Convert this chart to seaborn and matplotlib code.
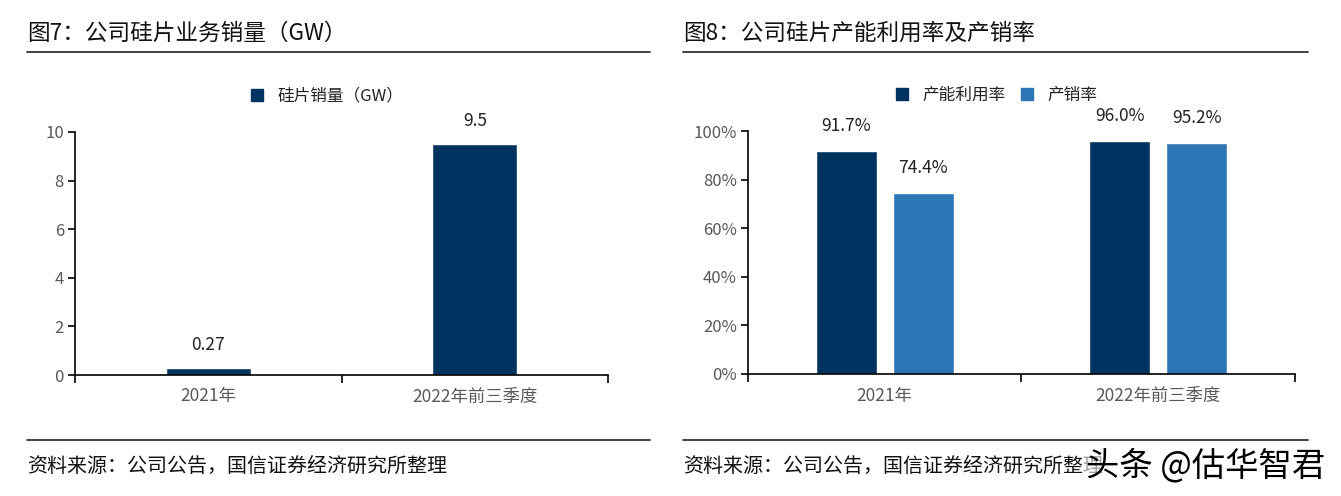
import pandas as pd
import matplotlib.pyplot as plt
import seaborn as sns
from matplotlib.ticker import PercentFormatter
from matplotlib.lines import Line2D

# data
categories = ['2021年', '2022年前三季度']
wafer_sales = [0.27, 9.5]
wafer_labels = ['0.27', '9.5']
util_rate = [0.917, 0.960]
sell_rate = [0.744, 0.952]
rate_series = ['产能利用率', '产销率']

dark = '#00335f'
light = '#2e75b6'
grey = '#595959'

sns.set_theme(style='white')
plt.rcParams['font.family'] = ['Noto Sans CJK SC', 'DejaVu Sans']
plt.rcParams['axes.unicode_minus'] = False

W, H = 1341, 496
fig = plt.figure(figsize=(W / 100, H / 100), dpi=100)


def fx(px):
    return px / W


def fy(py):
    return 1 - py / H


def style_axes(ax):
    sns.despine(ax=ax)
    for s in ['left', 'bottom']:
        ax.spines[s].set_color('black')
        ax.spines[s].set_linewidth(1.2)
    ax.set_xlim(-0.5, 1.5)
    ax.set_xticks([-0.5, 0.5, 1.5], minor=False)
    ax.set_xticklabels([])
    ax.tick_params(axis='x', which='major', direction='out', length=6, width=1.2,
                   color='black', bottom=True)
    ax.set_xticks([0, 1], minor=True)
    ax.set_xticklabels(categories, minor=True)
    ax.tick_params(axis='x', which='minor', length=0, labelsize=12.5,
                   labelcolor=grey, pad=9)
    ax.tick_params(axis='y', direction='out', length=5, width=1.2, color='black',
                   left=True, labelsize=12, labelcolor=grey, pad=3)
    ax.set_xlabel('')
    ax.set_ylabel('')


# ---- left chart
ax1 = fig.add_axes([fx(75), fy(375), fx(608 - 75), fy(132) - fy(375)])
sns.barplot(x=categories, y=wafer_sales, color=dark, width=0.32, saturation=1, ax=ax1)
ax1.set_ylim(0, 10)
ax1.set_yticks([0, 2, 4, 6, 8, 10])
style_axes(ax1)
for i, (v, lab) in enumerate(zip(wafer_sales, wafer_labels)):
    ax1.annotate(lab, (i, v), xytext=(0, 17), textcoords='offset points',
                 ha='center', va='center', fontsize=12.5, color='#222222')
h1 = [Line2D([], [], marker='s', linestyle='', markersize=9, color=dark)]
ax1.legend(h1, ['硅片销量（GW）'], loc='center', bbox_to_anchor=(0.463, 1.147),
           frameon=False, fontsize=12, handletextpad=0.2, labelcolor='#222222')

# ---- right chart
df = pd.DataFrame({
    'cat': categories * 2,
    'val': util_rate + sell_rate,
    'series': [rate_series[0]] * 2 + [rate_series[1]] * 2,
})
ax2 = fig.add_axes([fx(748), fy(374), fx(1295 - 748), fy(131) - fy(374)])
sns.barplot(data=df, x='cat', y='val', hue='series', hue_order=rate_series,
            palette=[dark, light], width=0.563, gap=0.208, saturation=1, ax=ax2)
ax2.set_ylim(0, 1)
ax2.set_yticks([0, 0.2, 0.4, 0.6, 0.8, 1.0])
ax2.yaxis.set_major_formatter(PercentFormatter(1.0, decimals=0))
style_axes(ax2)
for cont in ax2.containers:
    for p in cont.patches:
        v = p.get_height()
        ax2.annotate(f'{v * 100:.1f}%', (p.get_x() + p.get_width() / 2, v),
                     xytext=(0, 18), textcoords='offset points',
                     ha='center', va='center', fontsize=12.5, color='#222222')
h2 = [Line2D([], [], marker='s', linestyle='', markersize=9, color=c) for c in [dark, light]]
ax2.legend(h2, rate_series, loc='center', bbox_to_anchor=(0.445, 1.147),
           frameon=False, fontsize=12, ncol=2, handletextpad=0.2, columnspacing=0.3,
           labelcolor='#222222')

# ---- titles, rules, source notes
for x0, x1, title in [(27, 650, '图7：公司硅片业务销量（GW）'),
                      (683, 1308, '图8：公司硅片产能利用率及产销率')]:
    fig.text(fx(x0), fy(33), title, fontsize=16.3, ha='left', va='center',
             color='#111111', fontweight='medium')
    fig.add_artist(Line2D([fx(x0), fx(x1)], [fy(52), fy(52)], color='#333333', lw=1.3))
    fig.add_artist(Line2D([fx(x0), fx(x1)], [fy(440), fy(440)], color='#333333', lw=1.3))
    fig.text(fx(x0), fy(466), '资料来源：公司公告，国信证券经济研究所整理', fontsize=14.4,
             ha='left', va='center', color='#111111')

fig.text(fx(1325), fy(466), '头条 @估华智君', fontsize=24, ha='right', va='center',
         color='black', bbox=dict(facecolor='white', edgecolor='none', pad=1, alpha=0.6))

fig.savefig('out.png', dpi=100)
